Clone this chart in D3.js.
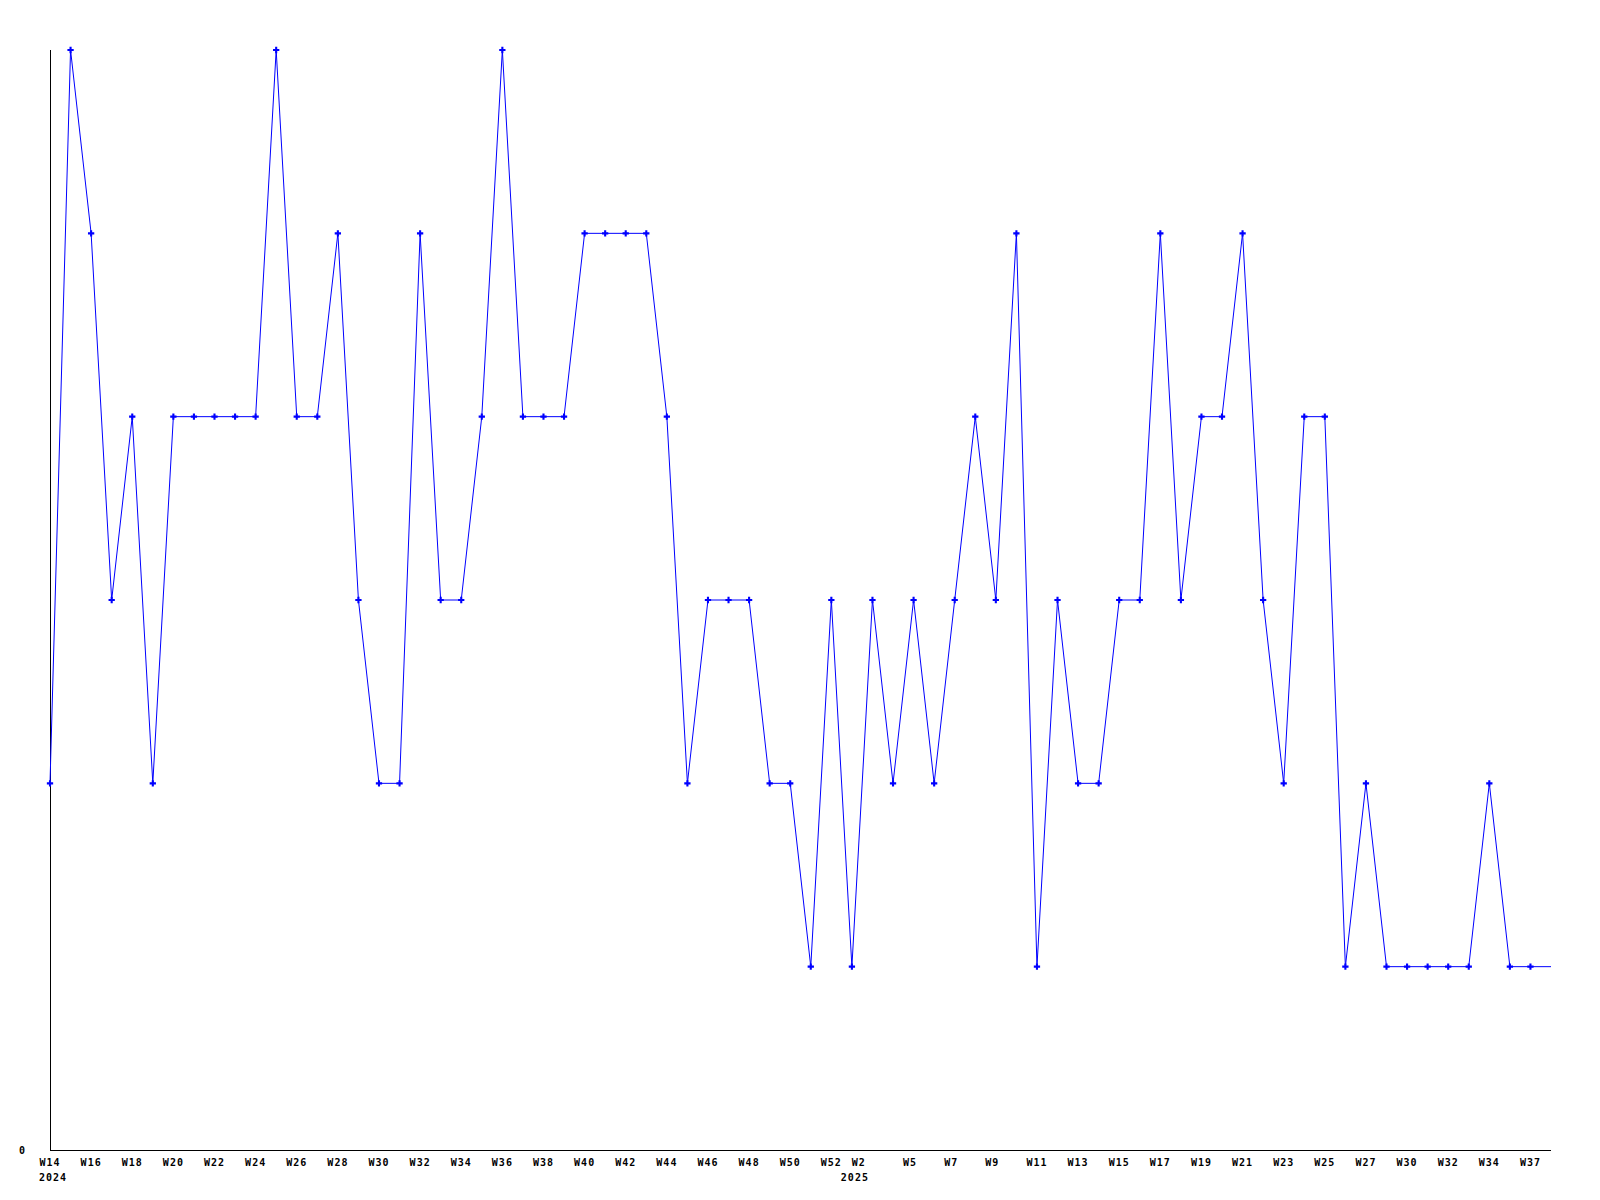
<!DOCTYPE html>
<html>
<head>
<meta charset="utf-8">
<script src="https://cdn.jsdelivr.net/npm/d3@7"></script>
<style>
  body { margin: 0; background: #fff; }
  text { font-family: "DejaVu Sans Mono", monospace; font-weight: bold; font-size: 10px; letter-spacing: 1px; fill: #000; }
</style>
</head>
<body>
<div id="chart"></div>
<script>
// weekly values, one per point (2024 W14 onward)
var values = [
  2, 6, 5, 3, 4, 2, 4, 4, 4, 4,
  4, 6, 4, 4, 5, 3, 2, 2, 5, 3,
  3, 4, 6, 4, 4, 4, 5, 5, 5, 5,
  4, 2, 3, 3, 3, 2, 2, 1, 3, 1,
  3, 2, 3, 2, 3, 4, 3, 5, 1, 3,
  2, 2, 3, 3, 5, 3, 4, 4, 5, 3,
  2, 4, 4, 1, 2, 1, 1, 1, 1, 1,
  2, 1, 1, 1
];

// x tick labels and the point index each one sits at
var tickLabels = ['W14', 'W16', 'W18', 'W20', 'W22', 'W24', 'W26', 'W28', 'W30', 'W32',
                  'W34', 'W36', 'W38', 'W40', 'W42', 'W44', 'W46', 'W48', 'W50', 'W52',
                  'W2', 'W5', 'W7', 'W9', 'W11', 'W13', 'W15', 'W17', 'W19', 'W21',
                  'W23', 'W25', 'W27', 'W30', 'W32', 'W34', 'W37'];
var tickIndex = [0, 2, 4, 6, 8, 10, 12, 14, 16, 18,
                 20, 22, 24, 26, 28, 30, 32, 34, 36, 38,
                 39.5, 42, 44, 46, 48, 50, 52, 54, 56, 58,
                 60, 62, 64, 66, 68, 70, 72];

// year labels under the first week of each year
var years = ['2024', '2025'];
var yearIndex = [0, 39];

var yTicks = [0];

var width = 1600;
var height = 1200;
var margin = { top: 50, right: 49, bottom: 50, left: 50 };

var svg = d3.select('#chart')
  .append('svg')
  .attr('width', width)
  .attr('height', height);

var x = d3.scaleLinear()
  .domain([0, values.length - 1])
  .range([margin.left, width - margin.right]);

var y = d3.scaleLinear()
  .domain([0, d3.max(values)])
  .range([height - margin.bottom, margin.top]);

// axes lines
svg.append('line')
  .attr('x1', x(0) + 0.5).attr('x2', x(0) + 0.5)
  .attr('y1', y(d3.max(values))).attr('y2', y(0))
  .attr('stroke', '#000')
  .attr('shape-rendering', 'crispEdges');

svg.append('line')
  .attr('x1', x(0)).attr('x2', x(values.length - 1))
  .attr('y1', y(0) + 0.5).attr('y2', y(0) + 0.5)
  .attr('stroke', '#000')
  .attr('shape-rendering', 'crispEdges');

// y label
svg.selectAll('.ylab')
  .data(yTicks)
  .enter().append('text')
  .attr('class', 'ylab')
  .attr('x', x(0) - 24)
  .attr('y', function (d) { return y(d) + 4; })
  .attr('text-anchor', 'end')
  .text(function (d) { return d; });

// x labels
svg.selectAll('.xlab')
  .data(tickLabels)
  .enter().append('text')
  .attr('class', 'xlab')
  .attr('x', function (d, i) { return x(tickIndex[i]) - 10.5; })
  .attr('y', y(0) + 16)
  .text(function (d) { return d; });

svg.selectAll('.year')
  .data(years)
  .enter().append('text')
  .attr('class', 'year')
  .attr('x', function (d, i) { return x(yearIndex[i]) + 3; })
  .attr('y', y(0) + 31)
  .attr('text-anchor', 'middle')
  .text(function (d) { return d; });

// the series
var line = d3.line()
  .x(function (d, i) { return x(i); })
  .y(function (d) { return y(d); });

svg.append('path')
  .datum(values)
  .attr('d', line)
  .attr('fill', 'none')
  .attr('stroke', '#0000ff')
  .attr('stroke-width', 1);

// markers (last point has none)
svg.selectAll('.dot')
  .data(values.slice(0, values.length - 1))
  .enter().append('path')
  .attr('class', 'dot')
  .attr('d', d3.symbol().type(d3.symbolCross).size(22))
  .attr('transform', function (d, i) { return 'translate(' + x(i) + ',' + y(d) + ')'; })
  .attr('fill', '#0000ff');
</script>
</body>
</html>
